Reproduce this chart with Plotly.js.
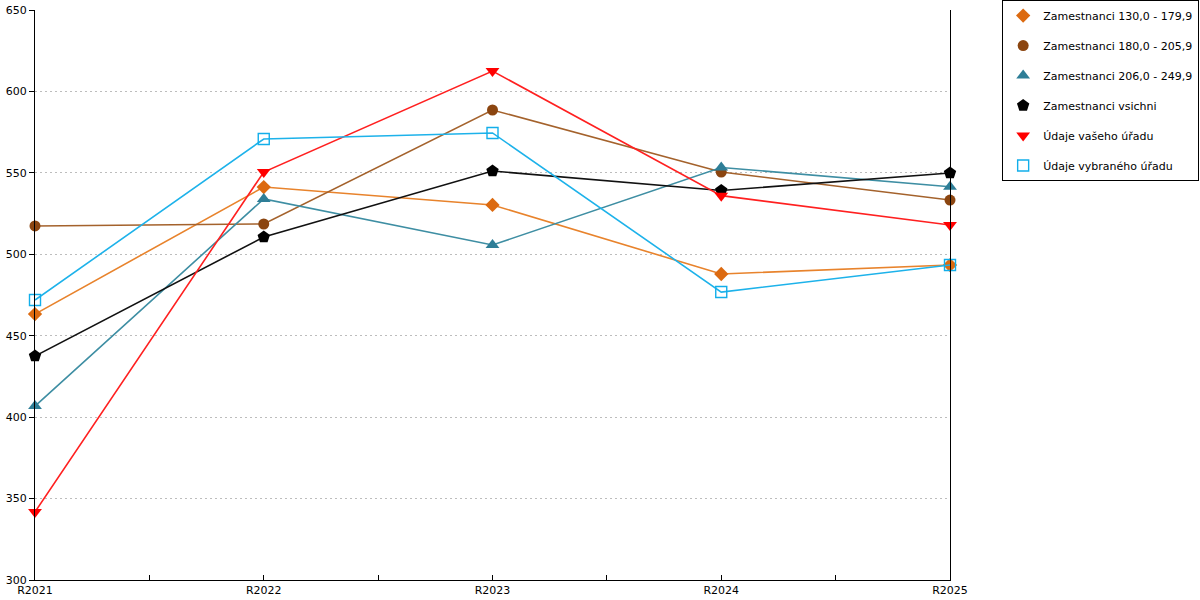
<!DOCTYPE html>
<html>
<head>
<meta charset="utf-8">
<script src="https://cdn.plot.ly/plotly-3.0.1.min.js"></script>
<style>
  html, body { margin: 0; padding: 0; background: #fff; }
  #graph { width: 1200px; height: 600px; }
</style>
</head>
<body>
<div id="graph"></div>
<script>
// categories on the x axis
var YEARS = ['R2021', 'R2022', 'R2023', 'R2024', 'R2025'];

// series values
var ZAM_130_179 = [463.3, 541.3, 530.3, 487.9, 493.4];
var ZAM_180_205 = [517.4, 518.6, 588.6, 550.5, 533.3];
var ZAM_206_249 = [406.8, 534.0, 505.7, 553.3, 541.5];
var ZAM_VSICHNI = [437.5, 510.6, 551.1, 539.2, 549.9];
var VASE_URAD = [341.8, 550.5, 612.5, 536.0, 518.0];
var VYBRANY_URAD = [471.9, 570.8, 574.5, 476.8, 493.4];

var Y_TICKS = [300, 350, 400, 450, 500, 550, 600, 650];

var GRAPHDIV = document.getElementById('graph');
var X_IDX = YEARS.map(function (d, i) { return i; });

//two traces per series : the line (no legend) and the markers (legend entry only shows the marker)
function make_traces(name, values, line_color, marker_color, symbol, size){
    var line_trace = {
        x: X_IDX,
        y: values,
        name: name,
        legendgroup: name,
        showlegend: false,
        mode: 'lines',
        type: 'scatter',
        line: {color: line_color, width: 1.6},
        hoverinfo: 'none'
    };
    var marker_trace = {
        x: X_IDX,
        y: values,
        name: name,
        legendgroup: name,
        mode: 'markers',
        type: 'scatter',
        cliponaxis: false, //markers on the edge axes are drawn whole
        marker: {
            symbol: symbol,
            size: size,
            color: marker_color,
            line: {width: symbol === 'square-open' ? 1.4 : 0, color: marker_color}
        },
        hoverinfo: 'none'
    };
    return [line_trace, marker_trace];
}

var data = [].concat(
    make_traces('Zamestnanci 130,0 - 179,9', ZAM_130_179, '#E8832C', '#DC6A10', 'diamond', 11),
    make_traces('Zamestnanci 180,0 - 205,9', ZAM_180_205, '#A4622C', '#8B4510', 'circle', 11),
    make_traces('Zamestnanci 206,0 - 249,9', ZAM_206_249, '#3E8EA3', '#2E7E97', 'triangle-up', 12),
    make_traces('Zamestnanci vsichni', ZAM_VSICHNI, '#111111', '#000000', 'pentagon', 13),
    make_traces('Údaje vašeho úřadu', VASE_URAD, '#FF2020', '#FF0000', 'triangle-down', 12),
    make_traces('Údaje vybraného úřadu', VYBRANY_URAD, '#1DB2EA', '#12AEEA', 'square-open', 11)
);

var LAYOUT = {
    width: 1200,
    height: 600,
    margin: {l: 35, r: 250, t: 10, b: 20, autoexpand: false},
    paper_bgcolor: '#ffffff',
    plot_bgcolor: '#ffffff',
    font: {family: 'DejaVu Sans, Verdana, sans-serif', size: 11, color: '#000'},
    showlegend: true,
    legend: {
        x: 1.057,
        xanchor: 'left',
        y: 1.0175,
        yanchor: 'top',
        bgcolor: '#ffffff',
        bordercolor: '#000000',
        borderwidth: 1,
        tracegroupgap: 11,
        itemwidth: 30,
        font: {family: 'DejaVu Sans, Verdana, sans-serif', size: 11, color: '#000'}
    },
    xaxis: {
        range: [0, 4],
        tickvals: X_IDX,
        ticktext: YEARS,
        ticks: 'inside',
        ticklen: 5,
        tickcolor: '#000',
        showgrid: false,
        zeroline: false,
        showline: true,
        linecolor: '#000',
        linewidth: 1,
        automargin: false,
        tickfont: {size: 11},
        minor: {dtick: 0.5, ticks: 'inside', ticklen: 5, tickcolor: '#000', showgrid: false}
    },
    yaxis: {
        range: [300, 650],
        tickvals: Y_TICKS,
        ticks: 'outside',
        ticklen: 5,
        tickcolor: '#000',
        showgrid: true,
        gridcolor: '#bdbdbd',
        griddash: '2px,3px',
        gridwidth: 1,
        zeroline: false,
        showline: true,
        linecolor: '#000',
        linewidth: 1,
        mirror: true,
        automargin: false,
        tickfont: {size: 11}
    }
};

Plotly.newPlot(GRAPHDIV, data, LAYOUT, {staticPlot: true});
</script>
</body>
</html>
